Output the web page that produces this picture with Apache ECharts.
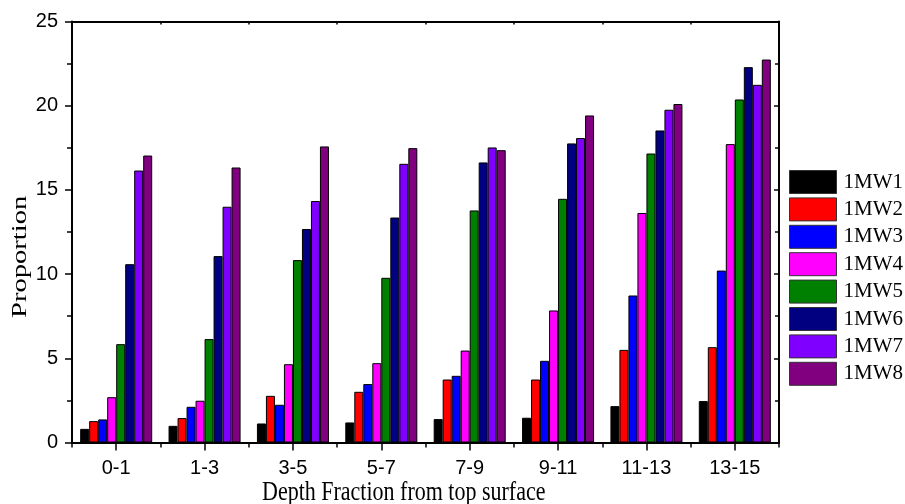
<!DOCTYPE html>
<html>
<head>
<meta charset="utf-8">
<script src="https://cdn.jsdelivr.net/npm/echarts@6/dist/echarts.min.js"></script>
<style>
  html, body { margin: 0; padding: 0; background: #fff; }
  #chart { width: 905px; height: 504px; }
</style>
</head>
<body>
<div id="chart"></div>
<script>
// Depth fractions (x categories)
const categories = ['0-1', '1-3', '3-5', '5-7', '7-9', '9-11', '11-13', '13-15'];

// Proportion per depth fraction for each sample
const mw1 = [0.81, 0.99, 1.13, 1.19, 1.39, 1.47, 2.16, 2.46];
const mw2 = [1.27, 1.45, 2.77, 3.01, 3.74, 3.74, 5.50, 5.66];
const mw3 = [1.37, 2.12, 2.24, 3.47, 3.96, 4.85, 8.73, 10.21];
const mw4 = [2.69, 2.48, 4.65, 4.71, 5.46, 7.84, 13.63, 17.72];
const mw5 = [5.84, 6.14, 10.83, 9.78, 13.78, 14.47, 17.16, 20.37];
const mw6 = [10.59, 11.07, 12.68, 13.36, 16.63, 17.76, 18.53, 22.29];
const mw7 = [16.15, 14.00, 14.34, 16.55, 17.52, 18.08, 19.76, 21.24];
const mw8 = [17.04, 16.33, 17.58, 17.48, 17.36, 19.42, 20.10, 22.74];

const seriesNames = ['1MW1', '1MW2', '1MW3', '1MW4', '1MW5', '1MW6', '1MW7', '1MW8'];
const seriesData = [mw1, mw2, mw3, mw4, mw5, mw6, mw7, mw8];
const seriesColors = ['#000000', '#ff0000', '#0000ff', '#ff00ff', '#008000', '#000080', '#8000ff', '#800080'];

const yTicks = { min: 0, max: 25, interval: 5 };

const SANS = 'Liberation Sans, Arial, sans-serif';
const SERIF = 'Liberation Serif, Times New Roman, serif';
const axisLine = { show: true, onZero: false, lineStyle: { color: '#000', width: 2 } };

const chart = echarts.init(document.getElementById('chart'), null, { renderer: 'canvas' });

const series = seriesNames.map((name, i) => ({
  name: name,
  type: 'bar',
  xAxisIndex: 0,
  yAxisIndex: 0,
  data: seriesData[i],
  barGap: '0%',
  barCategoryGap: '18.5%',
  itemStyle: { color: seriesColors[i], borderColor: '#000', borderWidth: 1 },
  emphasis: { disabled: true }
}));

chart.setOption({
  animation: false,
  backgroundColor: '#fff',
  grid: { left: 72, right: 126, top: 21.5, bottom: 61.5, containLabel: false },
  legend: {
    orient: 'vertical',
    left: 789,
    top: 170,
    padding: 0,
    itemWidth: 47,
    itemHeight: 23,
    itemGap: 3.4,
    icon: 'rect',
    data: seriesNames,
    selectedMode: false,
    textStyle: { fontFamily: SERIF, fontSize: 21, color: '#000', padding: [0, 0, 0, 2] },
    itemStyle: { borderColor: '#333', borderWidth: 1 }
  },
  xAxis: [
    {
      type: 'category',
      position: 'bottom',
      data: categories,
      axisLine: axisLine,
      axisTick: { show: true, alignWithLabel: true, length: 8, lineStyle: { color: '#000', width: 1.5 } },
      axisLabel: { fontFamily: SANS, fontSize: 20, color: '#000', margin: 16 },
      splitLine: { show: false }
    },
    {
      type: 'category',
      position: 'bottom',
      data: categories,
      axisLine: { show: false },
      axisTick: { show: true, alignWithLabel: false, length: 5, lineStyle: { color: '#000', width: 1.5 } },
      axisLabel: { show: false },
      splitLine: { show: false }
    },
    {
      type: 'category',
      position: 'top',
      data: categories,
      axisLine: axisLine,
      axisTick: { show: true, inside: true, alignWithLabel: false, length: 3, lineStyle: { color: '#000', width: 1.5 } },
      axisLabel: { show: false },
      splitLine: { show: false }
    },
    {
      type: 'category',
      position: 'top',
      data: categories,
      axisLine: { show: false },
      axisTick: { show: true, inside: true, alignWithLabel: true, length: 3, lineStyle: { color: '#000', width: 1.5 } },
      axisLabel: { show: false },
      splitLine: { show: false }
    }
  ],
  yAxis: [
    {
      type: 'value',
      position: 'left',
      min: yTicks.min,
      max: yTicks.max,
      interval: yTicks.interval,
      axisLine: axisLine,
      axisTick: { show: true, length: 7, lineStyle: { color: '#000', width: 1.5 } },
      minorTick: { show: true, splitNumber: 2, length: 5, lineStyle: { color: '#000', width: 1.5 } },
      axisLabel: { fontFamily: SANS, fontSize: 20, color: '#000', margin: 14 },
      splitLine: { show: false }
    },
    {
      type: 'value',
      position: 'right',
      min: yTicks.min,
      max: yTicks.max,
      interval: yTicks.interval,
      axisLine: axisLine,
      axisTick: { show: true, inside: true, length: 5, lineStyle: { color: '#000', width: 1.5 } },
      minorTick: { show: true, splitNumber: 2, length: 4, lineStyle: { color: '#000', width: 1.5 } },
      axisLabel: { show: false },
      splitLine: { show: false }
    }
  ],
  graphic: [
    {
      type: 'text',
      x: 262,
      y: 480,
      scaleY: 1.22,
      style: { text: 'Depth Fraction from top surface', font: '22px ' + SERIF, fill: '#000', textVerticalAlign: 'top' }
    },
    {
      type: 'text',
      x: 9,
      y: 318,
      rotation: Math.PI / 2,
      scaleX: 1.3,
      style: { text: 'Proportion', font: '22px ' + SERIF, fill: '#000', textVerticalAlign: 'top' }
    }
  ],
  series: series
});
</script>
</body>
</html>
